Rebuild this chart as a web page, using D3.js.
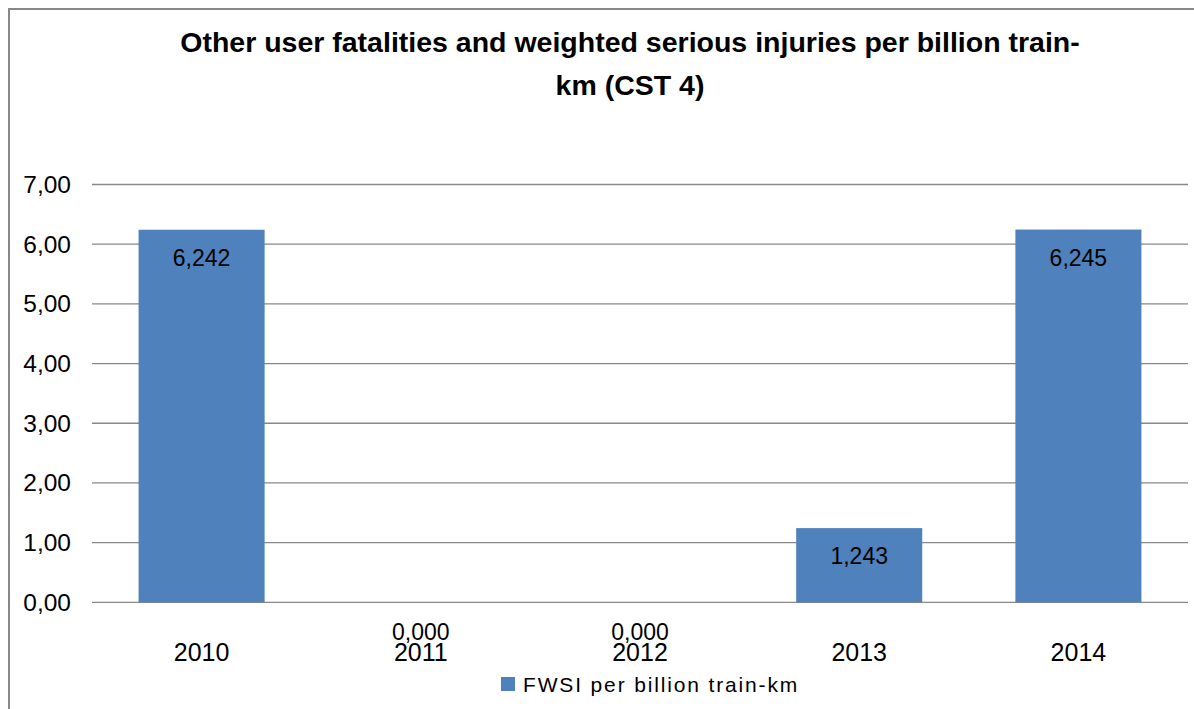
<!DOCTYPE html>
<html><head><meta charset="utf-8">
<script src="https://cdn.jsdelivr.net/npm/d3@7"></script>
<style>body{margin:0;background:#fff;overflow:hidden}svg{display:block}</style>
</head><body>
<script>
const categories = ["2010","2011","2012","2013","2014"];
const values = [6.242, 0.000, 0.000, 1.243, 6.245];
const yTicks = [0,1,2,3,4,5,6,7];
const seriesName = "FWSI per billion train-km";
const titleLines = ["Other user fatalities and weighted serious injuries per billion train-", "km (CST 4)"];

const W = 1194, H = 709;
const svg = d3.select("body").append("svg").attr("width", W).attr("height", H);
svg.append("rect").attr("width", W).attr("height", H).attr("fill", "#fff");
// outer frame (top and left visible)
svg.append("path").attr("d", `M9,${H} L9,9 L${W},9`).attr("fill","none").attr("stroke","#888").attr("stroke-width",2);

const font = "'Liberation Sans', Arial, sans-serif";
const x = d3.scaleBand().domain(categories).range([92, 1188]).paddingInner(0.425).paddingOuter(0.2125);
const y = d3.scaleLinear().domain([0,7]).range([602.3, 184.5]);

// title
svg.append("g").selectAll("text").data(titleLines).join("text")
  .attr("x", 630).attr("y", (d,i)=> 52 + i*43)
  .attr("text-anchor","middle").attr("font-family", font).attr("font-weight","bold")
  .attr("font-size", 28.5).attr("fill","#000").text(d=>d);

// gridlines
svg.append("g").selectAll("line").data(yTicks).join("line")
  .attr("x1", 92).attr("x2", 1188).attr("y1", d=>y(d)).attr("y2", d=>y(d))
  .attr("stroke", "#888").attr("stroke-width", 1.3);

// y axis labels
const fmt2 = d => d3.format(".2f")(d).replace(".", ",");
const fmt3 = d => d3.format(".3f")(d).replace(".", ",");
svg.append("g").selectAll("text").data(yTicks).join("text")
  .attr("x", 71).attr("y", d=>y(d)+8.5).attr("text-anchor","end")
  .attr("font-family", font).attr("font-size", 24.5).attr("fill","#000").text(fmt2);

// bars
svg.append("g").selectAll("rect").data(categories).join("rect")
  .attr("x", d=>x(d)).attr("width", x.bandwidth())
  .attr("y", (d,i)=>y(values[i])).attr("height", (d,i)=>y(0)-y(values[i]))
  .attr("fill", "#4F81BD");

// data labels
svg.append("g").selectAll("text").data(categories).join("text")
  .attr("x", d=>x(d)+x.bandwidth()/2)
  .attr("y", (d,i)=> values[i] > 0 ? y(values[i]) + 36 : 640)
  .attr("text-anchor","middle").attr("font-family", font).attr("font-size", 23).attr("fill","#000")
  .text((d,i)=>fmt3(values[i]));

// x labels
svg.append("g").selectAll("text").data(categories).join("text")
  .attr("x", d=>x(d)+x.bandwidth()/2).attr("y", 661)
  .attr("text-anchor","middle").attr("font-family", font).attr("font-size", 25).attr("fill","#000")
  .text(d=>d);

// legend
svg.append("rect").attr("x", 501).attr("y", 677).attr("width", 14).attr("height", 14).attr("fill", "#4F81BD");
svg.append("text").attr("x", 523).attr("y", 692).attr("font-family", font).attr("font-size", 21)
  .attr("letter-spacing", 1.85).attr("fill","#000").text(seriesName);
</script>
</body></html>
